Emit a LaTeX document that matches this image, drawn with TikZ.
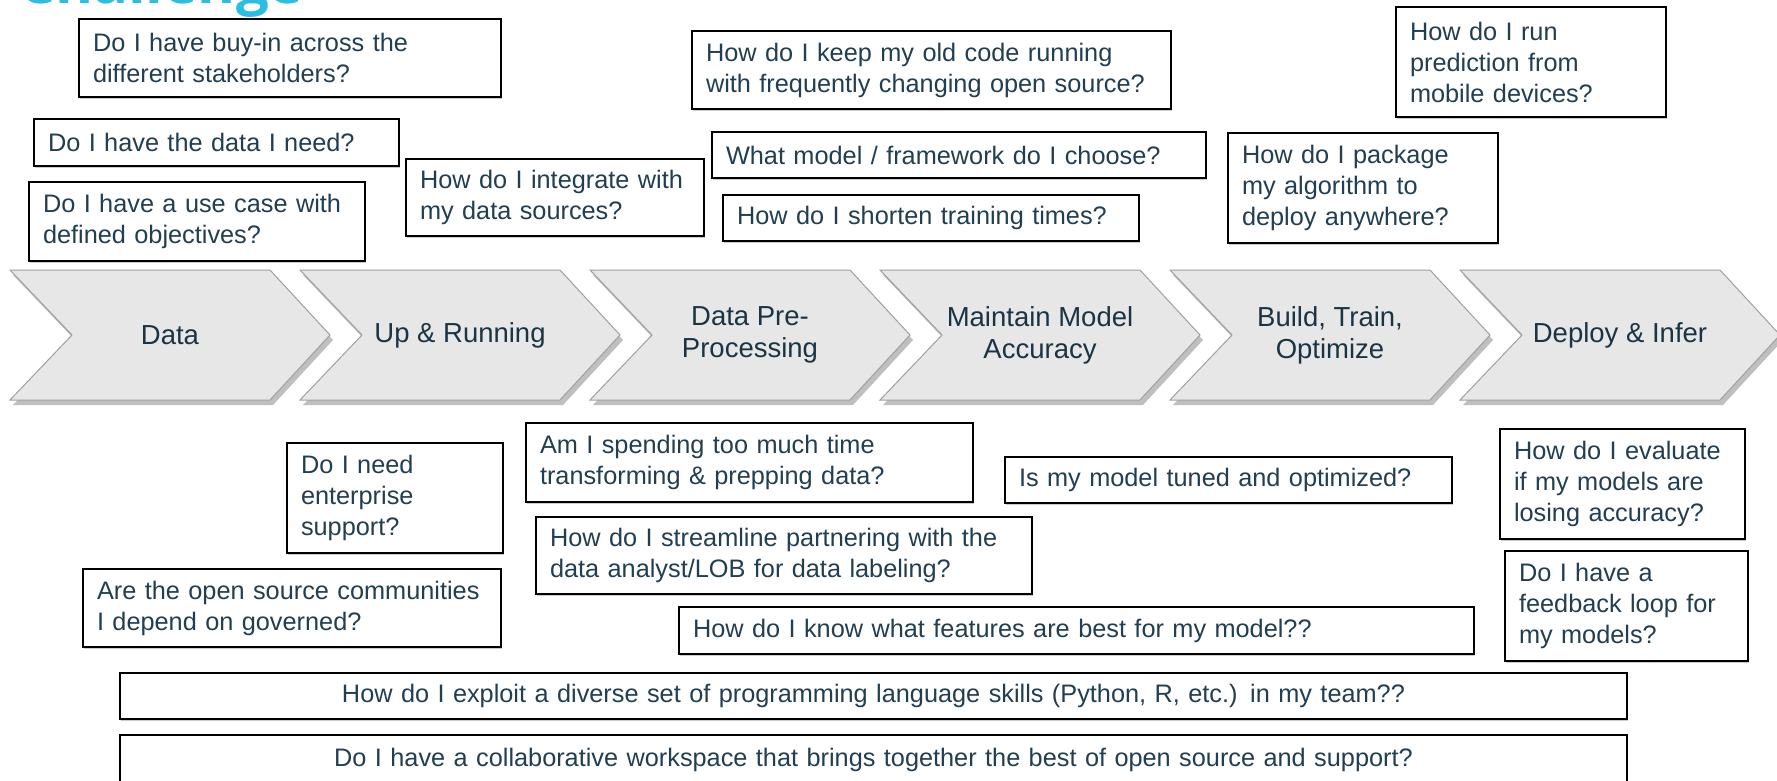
\documentclass[tikz,border=0pt]{standalone}
\usepackage{fontspec}
\setmainfont{Liberation Sans}
\newfontfamily\titlefont{Open Sans}
\usepackage{xcolor}
\usepackage{tikz}
\usetikzlibrary{positioning,shadows}
\definecolor{qtextcolor}{RGB}{34,62,82}
\definecolor{stagetext}{RGB}{27,52,68}
\definecolor{stagefill}{RGB}{231,231,231}
\definecolor{stagedraw}{RGB}{160,160,160}
\definecolor{titlecolor}{RGB}{41,190,226}
\tikzset{
    question/.style={rectangle, draw=black, line width=1.6pt, fill=white, anchor=north west, align=left, inner xsep=14pt, inner ysep=0pt, outer sep=0pt, text=qtextcolor, font=\fontsize{25.3}{31}\selectfont, drop shadow={shadow xshift=1pt, shadow yshift=-1.5pt, fill=black!40, opacity=0.5}},
    wide question/.style={question, align=center},
    stage/.style={fill=stagefill, draw=stagedraw, line width=1pt, drop shadow={shadow xshift=3pt, shadow yshift=-5pt, fill=black!55, opacity=0.45}},
    stage label/.style={align=center, text=stagetext, font=\fontsize{27.5}{32}\selectfont},
    title/.style={anchor=base west, inner sep=0pt, text=titlecolor, font=\titlefont\bfseries\fontsize{58}{60}\selectfont}
}

\begin{document}
\begin{tikzpicture}[x=1pt, y=-1pt]
    \useasboundingbox[fill=white] (0,0) rectangle (1777,780);

    % Title, cut by the top edge
    \node[title] (title) at (18,3) {Challenge};

    % Stage chevrons
    \foreach \i/\name in {0/Data, 1/Up \& Running, 2/{Data Pre-\\Processing}, 3/{Maintain Model\\Accuracy}, 4/{Build, Train,\\Optimize}, 5/Deploy \& Infer} {
        \pgfmathsetmacro\xo{10+290*\i}
        \draw[stage] (\xo,270) -- ++(260,0) -- ++(60,65) -- ++(-60,65) -- ++(-260,0) -- ++(62,-65) -- cycle;
        \node[stage label] (stage-\i) at (\xo+160,335) {\name};
    }

    % Questions above the stages
    \node[question, text width=394pt, minimum height=78pt] (buyin) at (79,19) {Do I have buy-in across the\\different stakeholders?};
    \node[question, text width=337pt, minimum height=47pt] (needdata) at (34,119) {Do I have the data I need?};
    \node[question, text width=308pt, minimum height=79pt] (usecase) at (29,182) {Do I have a use case with\\defined objectives?};
    \node[question, text width=270pt, minimum height=77pt] (integrate) at (406,159) {How do I integrate with\\my data sources?};
    \node[question, text width=451pt, minimum height=78pt] (oldcode) at (692,31) {How do I keep my old code running\\with frequently changing open source?};
    \node[question, text width=466pt, minimum height=46pt] (framework) at (712,132) {What model / framework\ do I choose?};
    \node[question, text width=388pt, minimum height=46pt] (shorten) at (723,195) {How do I shorten training times?};
    \node[question, text width=242pt, minimum height=110pt] (package) at (1228,133) {How do I package\\my algorithm to\\deploy anywhere?};
    \node[question, text width=242pt, minimum height=110pt] (mobile) at (1396,7) {How do I run\\prediction from\\mobile devices?};

    % Questions below the stages
    \node[question, text width=188pt, minimum height=110pt] (enterprise) at (287,443) {Do I need\\enterprise\\support?};
    \node[question, text width=419pt, minimum height=79pt] (prepping) at (526,423) {Am I spending too much time\\transforming \& prepping data?};
    \node[question, text width=468pt, minimum height=77pt] (labeling) at (536,517) {How do I streamline partnering with the\\data analyst/LOB for data labeling?};
    \node[question, text width=419pt, minimum height=46pt] (tuned) at (1005,457) {Is my model tuned and optimized?};
    \node[question, text width=217pt, minimum height=110pt] (evaluate) at (1500,429) {How do I evaluate\\if my models are\\losing accuracy?};
    \node[question, text width=215pt, minimum height=110pt] (feedback) at (1505,551) {Do I have a\\feedback loop for\\my models?};
    \node[question, text width=390pt, minimum height=78pt] (governed) at (83,569) {Are the open source communities\\I depend on governed?};
    \node[question, text width=767pt, minimum height=47pt] (features) at (679,607) {How do I know what features are best for my model??};

    % Full width questions
    \node[wide question, text width=1479pt, minimum height=46pt] (skills) at (120,673) {How do I exploit a diverse set of programming language skills (Python, R, etc.) in my team??};
    \node[wide question, text width=1479pt, minimum height=50pt] (workspace) at (120,735) {Do I have a collaborative workspace that brings together the best of open source and support?};
\end{tikzpicture}
\end{document}
